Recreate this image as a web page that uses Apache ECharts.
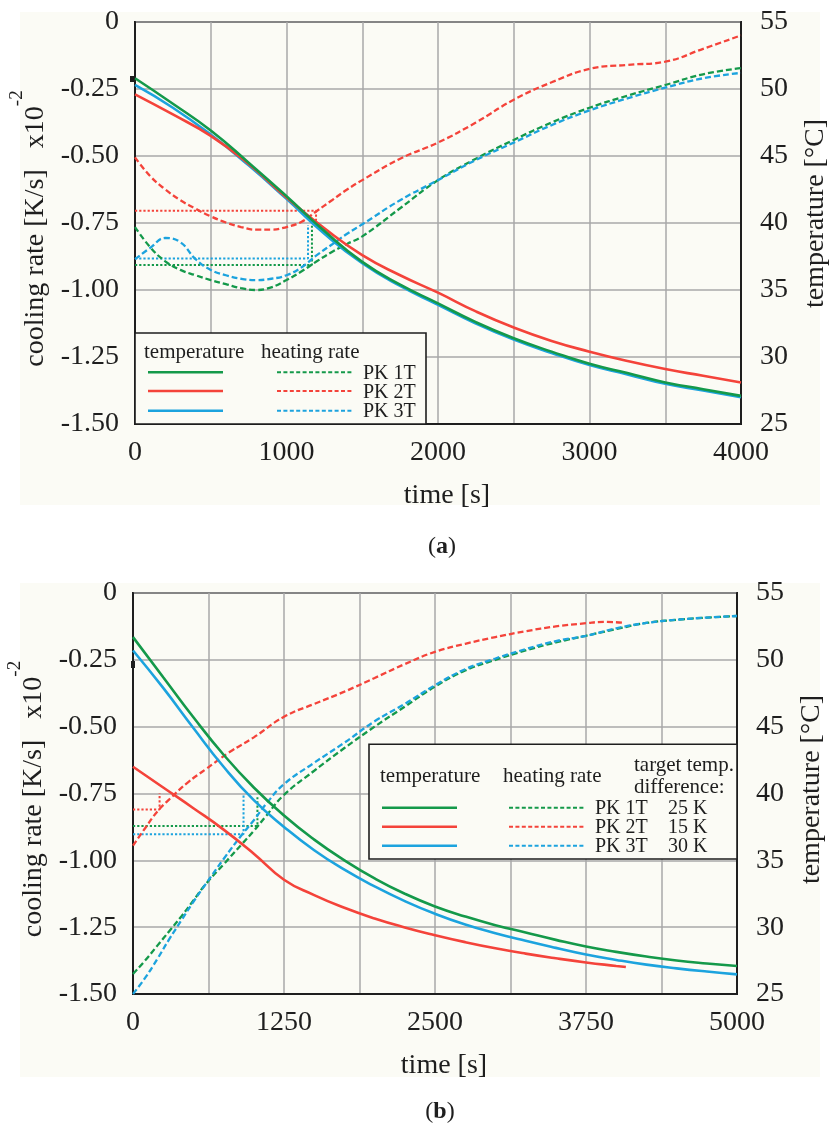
<!DOCTYPE html>
<html>
<head>
<meta charset="utf-8">
<script src="https://cdn.jsdelivr.net/npm/echarts@6/dist/echarts.min.js"></script>
<style>
  html, body { margin: 0; padding: 0; background: #ffffff; }
  #chart { width: 831px; height: 1126px; }
</style>
</head>
<body>
<div id="chart"></div>
<script>
// ---------- panel (a): heating rate, left axis [K/s x10^-2] ----------
const rateTimeA = [0, 100, 200, 300, 400, 500, 600, 700, 800, 900, 1000, 1100, 1200, 1300, 1400, 1500, 1750, 2000, 2250, 2500, 2750, 3000, 3250, 3500, 3750, 4000];
const rateA_pk1 = [-0.765, -0.84, -0.893, -0.925, -0.945, -0.963, -0.978, -0.993, -1.0, -0.99, -0.963, -0.93, -0.893, -0.858, -0.828, -0.80, -0.695, -0.59, -0.51, -0.44, -0.375, -0.32, -0.275, -0.235, -0.195, -0.172];
const rateA_pk2 = [-0.505, -0.575, -0.625, -0.665, -0.697, -0.725, -0.748, -0.765, -0.775, -0.775, -0.765, -0.745, -0.705, -0.665, -0.625, -0.59, -0.51, -0.45, -0.375, -0.29, -0.225, -0.175, -0.16, -0.148, -0.10, -0.05];
const rateA_pk3 = [-0.885, -0.843, -0.806, -0.822, -0.885, -0.925, -0.945, -0.958, -0.963, -0.958, -0.945, -0.915, -0.87, -0.83, -0.79, -0.755, -0.665, -0.59, -0.515, -0.45, -0.385, -0.33, -0.285, -0.245, -0.21, -0.19];

// ---------- panel (a): temperature, right axis [°C] ----------
const tempTimeA = [0, 250, 500, 750, 1000, 1250, 1500, 1750, 2000, 2250, 2500, 2750, 3000, 3250, 3500, 3750, 4000];
const tempA_pk1 = [50.8, 48.9, 46.9, 44.5, 42.0, 39.4, 37.1, 35.4, 34.0, 32.6, 31.4, 30.4, 29.5, 28.8, 28.1, 27.6, 27.1];
const tempA_pk2 = [49.6, 48.1, 46.5, 44.4, 41.9, 39.6, 37.6, 36.1, 34.8, 33.4, 32.2, 31.2, 30.4, 29.7, 29.1, 28.6, 28.1];
const tempA_pk3 = [50.3, 48.6, 46.6, 44.3, 41.8, 39.2, 37.0, 35.3, 33.9, 32.5, 31.3, 30.3, 29.4, 28.7, 28.0, 27.5, 27.0];

// target heating-rate levels and switch times (PK 1T, PK 2T, PK 3T)
const guideLevelA = [-0.907, -0.704, -0.882];
const guideTimeA  = [1168, 1195, 1142];
const guideEndA   = [-0.755, -0.745, -0.757];

// ---------- panel (b): heating rate ----------
const rateTimeB = [0, 100, 200, 300, 400, 500, 600, 750, 900, 1000, 1100, 1250, 1500, 1750, 2000, 2250, 2500, 2750, 3000, 3250, 3500, 3750, 4000, 4250, 4500, 4750, 5000];
const rateB_pk1 = [-1.425, -1.375, -1.32, -1.265, -1.21, -1.15, -1.09, -1.015, -0.94, -0.89, -0.835, -0.755, -0.665, -0.58, -0.50, -0.425, -0.35, -0.29, -0.25, -0.215, -0.185, -0.16, -0.135, -0.112, -0.10, -0.092, -0.086];
const rateB_pk3 = [-1.5, -1.44, -1.37, -1.295, -1.225, -1.155, -1.09, -0.995, -0.905, -0.85, -0.79, -0.715, -0.635, -0.56, -0.48, -0.415, -0.345, -0.285, -0.245, -0.21, -0.18, -0.16, -0.132, -0.112, -0.10, -0.092, -0.086];
const rateTimeB_pk2 = [0, 100, 200, 300, 450, 600, 800, 1000, 1250, 1500, 1750, 2000, 2250, 2500, 2750, 3000, 3250, 3500, 3750, 3900, 4050];
const rateB_pk2 = [-0.945, -0.88, -0.818, -0.772, -0.71, -0.66, -0.595, -0.54, -0.463, -0.415, -0.369, -0.318, -0.266, -0.22, -0.19, -0.165, -0.143, -0.125, -0.113, -0.108, -0.111];

// ---------- panel (b): temperature ----------
const tempTimeB = [0, 250, 500, 750, 1000, 1250, 1500, 1750, 2000, 2250, 2500, 2750, 3000, 3250, 3500, 3750, 4000, 4250, 4500, 4750, 5000];
const tempB_pk1 = [51.7, 48.7, 45.7, 42.9, 40.45, 38.35, 36.55, 35.0, 33.65, 32.5, 31.55, 30.8, 30.15, 29.6, 29.05, 28.55, 28.15, 27.8, 27.5, 27.28, 27.1];
const tempB_pk3 = [50.7, 47.9, 44.9, 42.0, 39.5, 37.5, 35.75, 34.3, 33.05, 31.95, 31.0, 30.2, 29.55, 28.98, 28.45, 27.95, 27.55, 27.2, 26.92, 26.68, 26.47];
const tempTimeB_pk2 = [0, 250, 500, 750, 1000, 1250, 1500, 1750, 2000, 2250, 2500, 2750, 3000, 3250, 3500, 3750, 4000, 4080];
const tempB_pk2 = [42.0, 40.45, 38.9, 37.3, 35.5, 33.55, 32.4, 31.45, 30.65, 29.98, 29.4, 28.88, 28.42, 28.02, 27.67, 27.36, 27.1, 27.02];

const guideLevelB = [-0.872, -0.81, -0.902];
const guideTimeB  = [1030, 220, 915];
const guideEndB   = [-0.757, -0.75, -0.752];

// axis ticks
const rateTicks = { min: -1.5, max: 0, step: 0.25 };
const tempTicks = { min: 25, max: 55, step: 5 };
const timeTicksA = { max: 4000, step: 500, label: 1000 };
const timeTicksB = { max: 5000, step: 625, label: 1250 };

const seriesNames = ['PK 1T', 'PK 2T', 'PK 3T'];
const targetDiff = ['25 K', '15 K', '30 K'];

const COLORS = ['#14994a', '#f4433a', '#1ca3de'];
const FONT = 'Liberation Serif';
const INK = '#1e1e1e';
const GRIDLINE = '#a9a9a9';
const PAPER = '#fbfbf5';

const zip = (xs, ys) => xs.map((x, i) => [x, ys[i]]);
const guide = (t, level, end) => [[0, level], [t, level], [t, end]];

function timeAxis(gridIndex, ticks) {
  return {
    type: 'value', gridIndex, min: 0, max: ticks.max, interval: ticks.step,
    name: 'time [s]', nameLocation: 'middle', nameGap: 58,
    nameTextStyle: { fontFamily: FONT, fontSize: 28, color: INK, padding: [0, 0, 0, 18] },
    axisLine: { show: true, onZero: false, lineStyle: { color: INK, width: 2 } },
    axisTick: { show: false },
    axisLabel: {
      fontFamily: FONT, fontSize: 28, color: INK, margin: 15,
      formatter: v => (v % ticks.label === 0 ? String(v) : '')
    },
    splitLine: { show: true, lineStyle: { color: GRIDLINE, width: 1.5 } }
  };
}

function rateAxis(gridIndex, shift) {
  return {
    type: 'value', gridIndex, position: 'left',
    min: rateTicks.min, max: rateTicks.max, interval: rateTicks.step,
    name: '{m|cooling rate [K/s]   x10}{s|-2}',
    nameLocation: 'middle', nameRotate: 90, nameGap: 68,
    nameTextStyle: {
      padding: [0, shift, 0, 0],
      rich: {
        m: { fontFamily: FONT, fontSize: 28, color: INK, padding: [14, 0, 0, 0], verticalAlign: 'bottom' },
        s: { fontFamily: FONT, fontSize: 19, color: INK, verticalAlign: 'top' }
      }
    },
    axisLine: { show: true, onZero: false, lineStyle: { color: INK, width: 2 } },
    axisTick: { show: false },
    axisLabel: {
      fontFamily: FONT, fontSize: 28, color: INK, margin: 16,
      formatter: v => (v === 0 ? '0' : v.toFixed(2))
    },
    splitLine: { show: true, lineStyle: { color: GRIDLINE, width: 1.5 } }
  };
}

function tempAxis(gridIndex, shift) {
  return {
    type: 'value', gridIndex, position: 'right',
    min: tempTicks.min, max: tempTicks.max, interval: tempTicks.step,
    name: 'temperature [°C]', nameLocation: 'middle', nameRotate: 90, nameGap: 61,
    nameTextStyle: { fontFamily: FONT, fontSize: 28, color: INK, padding: [0, 0, 0, shift] },
    axisLine: { show: true, onZero: false, lineStyle: { color: INK, width: 2 } },
    axisTick: { show: false },
    axisLabel: { fontFamily: FONT, fontSize: 28, color: INK, margin: 19 },
    splitLine: { show: false }
  };
}

function tempLine(xAxisIndex, yAxisIndex, data, k) {
  return {
    type: 'line', xAxisIndex, yAxisIndex, data, name: 'temperature ' + seriesNames[k],
    showSymbol: false, smooth: 0.5, z: 4,
    lineStyle: { color: COLORS[k], width: 2.6 }
  };
}
function rateLine(xAxisIndex, yAxisIndex, data, k) {
  return {
    type: 'line', xAxisIndex, yAxisIndex, data, name: 'heating rate ' + seriesNames[k],
    showSymbol: false, smooth: 0.45, z: 3,
    lineStyle: { color: COLORS[k], width: 2.3, type: [6, 3] }
  };
}
function guideLine(xAxisIndex, yAxisIndex, data, k) {
  return {
    type: 'line', xAxisIndex, yAxisIndex, data, name: 'target ' + seriesNames[k],
    showSymbol: false, smooth: false, z: 2,
    lineStyle: { color: COLORS[k], width: 2, type: [2.2, 2] }
  };
}

// legend drawing helpers
const txt = (x, y, text, size) => ({
  type: 'text', z: 101, x, y,
  style: { text, fill: INK, font: size + 'px "' + FONT + '"', verticalAlign: 'middle', align: 'left' }
});
const sample = (x1, x2, y, k, dashed) => ({
  type: 'line', z: 101,
  shape: { x1, y1: y, x2, y2: y },
  style: { stroke: COLORS[k], lineWidth: dashed ? 2.1 : 2.4, lineDash: dashed ? [4, 2.4] : null }
});

function legendA() {
  const rows = [372.3, 391, 410.7];
  const els = [
    { type: 'rect', z: 100, shape: { x: 135, y: 333, width: 291, height: 91 },
      style: { fill: PAPER, stroke: INK, lineWidth: 1.6 } },
    txt(144, 352, 'temperature', 21),
    txt(261, 352, 'heating rate', 21)
  ];
  rows.forEach((y, k) => {
    els.push(sample(148, 223, y, k, false));
    els.push(sample(277, 352, y, k, true));
    els.push(txt(363, y + 1.5, seriesNames[k], 20));
  });
  return els;
}

function legendB() {
  const rows = [807.7, 826.7, 845.7];
  const els = [
    { type: 'rect', z: 100, shape: { x: 369, y: 744.3, width: 368, height: 114.7 },
      style: { fill: PAPER, stroke: INK, lineWidth: 1.6 } },
    txt(380, 776, 'temperature', 21),
    txt(503, 776, 'heating rate', 21),
    txt(634, 765, 'target temp.', 21),
    txt(634, 787.5, 'difference:', 21)
  ];
  rows.forEach((y, k) => {
    els.push(sample(382, 457, y, k, false));
    els.push(sample(509, 584, y, k, true));
    els.push(txt(595, y + 1.5, seriesNames[k], 20));
    els.push(txt(668, y + 1.5, targetDiff[k], 20));
  });
  return els;
}

const chart = echarts.init(document.getElementById('chart'), null, { renderer: 'canvas' });

const option = {
  backgroundColor: '#ffffff',
  animation: false,
  grid: [
    { left: 135, top: 22, width: 606, height: 402, show: true, borderColor: INK, borderWidth: 2,
      containLabel: false, outerBoundsMode: 'none' },
    { left: 133, top: 593, width: 604, height: 401, show: true, borderColor: INK, borderWidth: 2,
      containLabel: false, outerBoundsMode: 'none' }
  ],
  xAxis: [timeAxis(0, timeTicksA), timeAxis(1, timeTicksB)],
  yAxis: [rateAxis(0, 11), tempAxis(0, 19), rateAxis(1, 11), tempAxis(1, 8)],
  series: [
    // (a)
    guideLine(0, 0, guide(guideTimeA[0], guideLevelA[0], guideEndA[0]), 0),
    guideLine(0, 0, guide(guideTimeA[1], guideLevelA[1], guideEndA[1]), 1),
    guideLine(0, 0, guide(guideTimeA[2], guideLevelA[2], guideEndA[2]), 2),
    rateLine(0, 0, zip(rateTimeA, rateA_pk1), 0),
    rateLine(0, 0, zip(rateTimeA, rateA_pk2), 1),
    rateLine(0, 0, zip(rateTimeA, rateA_pk3), 2),
    tempLine(0, 1, zip(tempTimeA, tempA_pk3), 2),
    tempLine(0, 1, zip(tempTimeA, tempA_pk2), 1),
    tempLine(0, 1, zip(tempTimeA, tempA_pk1), 0),
    // (b)
    guideLine(1, 2, guide(guideTimeB[0], guideLevelB[0], guideEndB[0]), 0),
    guideLine(1, 2, guide(guideTimeB[1], guideLevelB[1], guideEndB[1]), 1),
    guideLine(1, 2, guide(guideTimeB[2], guideLevelB[2], guideEndB[2]), 2),
    rateLine(1, 2, zip(rateTimeB, rateB_pk1), 0),
    rateLine(1, 2, zip(rateTimeB_pk2, rateB_pk2), 1),
    rateLine(1, 2, zip(rateTimeB, rateB_pk3), 2),
    tempLine(1, 3, zip(tempTimeB, tempB_pk3), 2),
    tempLine(1, 3, zip(tempTimeB_pk2, tempB_pk2), 1),
    tempLine(1, 3, zip(tempTimeB, tempB_pk1), 0)
  ],
  graphic: {
    elements: [
      // paper tone behind each panel
      { type: 'rect', z: -10, silent: true, shape: { x: 20, y: 12, width: 800, height: 493 }, style: { fill: PAPER } },
      { type: 'rect', z: -10, silent: true, shape: { x: 20, y: 583, width: 800, height: 494 }, style: { fill: PAPER } },
      // small marks at the left axis
      { type: 'rect', z: 50, shape: { x: 130, y: 76, width: 4, height: 6 }, style: { fill: INK } },
      { type: 'rect', z: 50, shape: { x: 131, y: 661, width: 4, height: 7 }, style: { fill: INK } },
      // panel captions
      { type: 'text', z: 50, x: 442, y: 547,
        style: { text: '({b|a})', fill: INK, font: '24px "' + FONT + '"', align: 'center', verticalAlign: 'middle',
                 rich: { b: { fontFamily: FONT, fontSize: 24, fontWeight: 'bold', fill: INK } } } },
      { type: 'text', z: 50, x: 440, y: 1112,
        style: { text: '({b|b})', fill: INK, font: '24px "' + FONT + '"', align: 'center', verticalAlign: 'middle',
                 rich: { b: { fontFamily: FONT, fontSize: 24, fontWeight: 'bold', fill: INK } } } },
      ...legendA(),
      ...legendB()
    ]
  }
};

chart.setOption(option);
</script>
</body>
</html>
